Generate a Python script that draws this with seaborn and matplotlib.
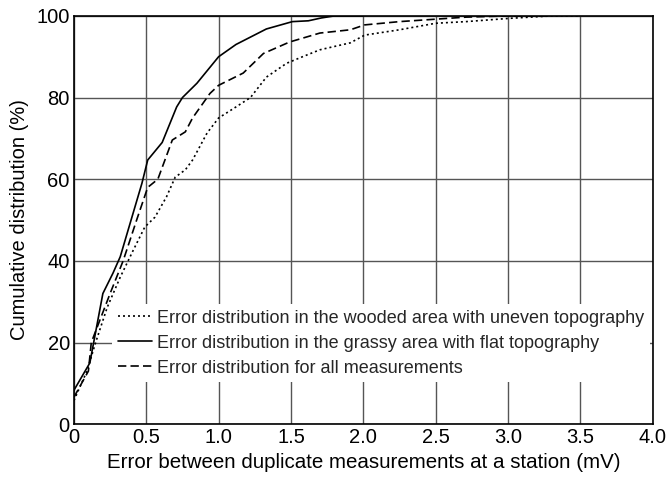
import matplotlib
matplotlib.use("Agg")
import matplotlib.pyplot as plt
import seaborn as sns
import pandas as pd

# Wooded area, uneven topography (dotted)
wooded_x = [0.0, 0.09, 0.15, 0.23, 0.32, 0.41, 0.49, 0.56, 0.64, 0.70, 0.77, 0.82, 0.92, 1.0, 1.12, 1.22,
            1.33, 1.47, 1.58, 1.70, 1.91, 2.01, 2.25, 2.5, 2.71, 3.01, 3.3, 3.5]
wooded_y = [5.8, 13, 20, 28.6, 36, 42.6, 48.3, 50.7, 55.7, 60.5, 62.3, 64.7, 71.3, 75, 77.7, 80,
            85, 88.4, 90, 91.7, 93.4, 95.3, 96.6, 98.2, 98.6, 99.4, 100, 100]

# Grassy area, flat topography (solid)
grassy_x = [0.0, 0.11, 0.2, 0.27, 0.32, 0.47, 0.51, 0.61, 0.71, 0.75, 0.85, 1.0, 1.12, 1.33, 1.51, 1.62,
            1.71, 1.8, 2.0]
grassy_y = [8.3, 15, 32, 37, 41, 59, 64.7, 69, 77.7, 80, 83.5, 90, 93, 96.8, 98.6, 98.8,
            99.5, 100, 100]

# All measurements (dashed)
all_x = [0.0, 0.1, 0.12, 0.25, 0.34, 0.44, 0.51, 0.58, 0.68, 0.77, 0.82, 0.94, 1.0, 1.17, 1.31, 1.49,
         1.70, 1.91, 2.01, 2.25, 2.5, 2.71, 3.0, 3.3]
all_y = [6.6, 13, 20, 32, 40, 50.7, 58, 60, 69.6, 71.6, 75, 81, 83, 86, 90.8, 93.6,
         95.8, 96.6, 97.8, 98.6, 99.2, 99.7, 100, 100]

labels = ["Error distribution in the wooded area with uneven topography",
          "Error distribution in the grassy area with flat topography",
          "Error distribution for all measurements"]
x_ticks = [0, 0.5, 1.0, 1.5, 2.0, 2.5, 3.0, 3.5, 4.0]
x_tick_labels = ["0", "0.5", "1.0", "1.5", "2.0", "2.5", "3.0", "3.5", "4.0"]
y_ticks = [0, 20, 40, 60, 80, 100]

sns.set_theme(style="white")
plt.rcParams['font.family'] = ['Liberation Sans', 'DejaVu Sans']

fig = plt.figure(figsize=(6.66, 4.82), dpi=100)
ax = fig.add_axes([0.111, 0.120, 0.869, 0.847])

styles = [dict(linestyle=(0, (1.2, 1.8))), dict(linestyle="-"), dict(linestyle=(0, (5, 2.5)))]
for (xs, ys), lab, st in zip([(wooded_x, wooded_y), (grassy_x, grassy_y), (all_x, all_y)], labels, styles):
    df = pd.DataFrame({"x": xs, "y": ys})
    sns.lineplot(data=df, x="x", y="y", ax=ax, color="black", linewidth=1.2,
                 estimator=None, sort=False, label=lab, **st)

ax.set_xlim(0, 4.0)
ax.set_ylim(0, 100)
ax.set_xticks(x_ticks)
ax.set_xticklabels(x_tick_labels)
ax.set_yticks(y_ticks)
ax.grid(True, color="#555555", linewidth=1.0)
ax.set_axisbelow(True)
for s in ax.spines.values():
    s.set_color("black")
    s.set_linewidth(1.2)
ax.tick_params(axis="both", length=0, labelsize=14.5, colors="black", pad=3)
ax.set_xlabel("Error between duplicate measurements at a station (mV)", fontsize=14.8, color="black", labelpad=4)
ax.set_ylabel("Cumulative distribution (%)", fontsize=14.5, color="black", labelpad=5)

leg = ax.legend(loc="upper left", bbox_to_anchor=(0.066, 0.294), frameon=True, fontsize=13.0,
                handlelength=1.9, handletextpad=0.3, labelspacing=0.45, borderpad=0.3,
                borderaxespad=0, fancybox=False)
leg.get_frame().set_facecolor("white")
leg.get_frame().set_edgecolor("none")
leg.get_frame().set_alpha(1)

fig.savefig("out.png", dpi=100)
